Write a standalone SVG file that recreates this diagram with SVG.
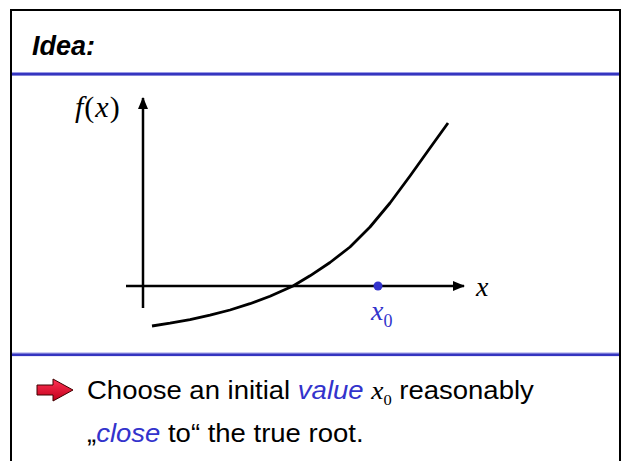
<svg xmlns="http://www.w3.org/2000/svg" width="621" height="461" viewBox="0 0 621 461">
<style>
.axis{stroke:#000;stroke-width:2.5;fill:none}
.curve{stroke:#000;stroke-width:2.8;fill:none;stroke-linejoin:round;stroke-linecap:butt}
.math{font-family:"Liberation Serif","Times New Roman",serif;font-style:italic}
.sans{font-family:"Liberation Sans",Arial,sans-serif}
.blue{fill:#3333cc}
</style>
<defs>
<marker id="ah" markerWidth="12" markerHeight="10" refX="11" refY="5" orient="auto" markerUnits="userSpaceOnUse">
<path d="M0,0 L12,5 L0,10 Z" fill="#000"/>
</marker>
<linearGradient id="rg" x1="0" y1="0" x2="0" y2="1">
<stop offset="0" stop-color="#ff3355"/>
<stop offset="1" stop-color="#c0001a"/>
</linearGradient>
</defs>
<rect x="0" y="0" width="621" height="461" fill="#fff"/>
<g id="frame">
<path d="M11,470 L11,10 L620,10 L620,470" fill="none" stroke="#000" stroke-width="2"/>
<rect x="12" y="72" width="607" height="1.2" fill="#9a9ae6"/>
<rect x="12" y="73" width="607" height="2.6" fill="#3535c0"/>
<rect x="12" y="352.5" width="607" height="1.2" fill="#9a9ae6"/>
<rect x="12" y="353.5" width="607" height="2.6" fill="#3535c0"/>
</g>
<g id="title">
<text x="32" y="55" class="sans" font-size="27" font-weight="bold" font-style="italic">Idea:</text>
</g>
<g id="connectors">
<line class="axis" x1="143" y1="308" x2="143" y2="98" marker-end="url(#ah)"/>
<line class="axis" x1="126" y1="286" x2="464" y2="286" marker-end="url(#ah)"/>
<polyline class="curve" points="152,326 170,323.2 190,319.6 210,315.2 230,310 250,303.7 270,296.3 293,286 310,275.8 330,262.5 350,247 370,227 390,203 410,176 430,148 448,123"/>
</g>
<g id="labels">
<text x="75" y="117" class="math" font-size="30" letter-spacing="1">f<tspan font-style="normal">(</tspan>x<tspan font-style="normal">)</tspan></text>
<text x="476" y="296" class="math" font-size="28">x</text>
</g>
<g id="x0">
<circle cx="378" cy="286" r="4.5" fill="#3333cc"/>
<text x="371" y="320" class="math blue" font-size="28">x<tspan font-style="normal" font-size="18" dy="7">0</tspan></text>
</g>
<g id="bullet">
<path d="M37,385 L53,385 L53,379 L73,390 L53,401 L53,395 L37,395 Z" fill="url(#rg)" stroke="#400000" stroke-width="1"/>
<g transform="translate(87,399) scale(1.1,1)">
<text x="0" y="0" class="sans" font-size="25">Choose an initial <tspan class="blue" font-style="italic">value</tspan> <tspan class="math" font-size="25">x<tspan font-style="normal" font-size="15" dy="6">0</tspan></tspan><tspan dy="-6"> reasonably</tspan></text>
</g>
<g transform="translate(87,442) scale(1.1,1)">
<text x="0" y="0" class="sans" font-size="25">„<tspan class="blue" font-style="italic">close</tspan> to“ the true root.</text>
</g>
</g>
</svg>
